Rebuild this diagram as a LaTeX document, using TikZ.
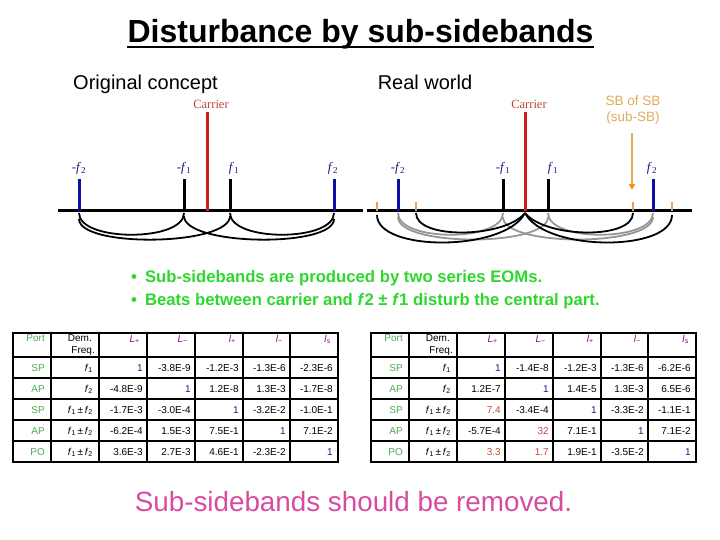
\documentclass[tikz,border=0pt]{standalone}
\usepackage{fontspec}
\setmainfont{Liberation Sans}
\newfontfamily\timesfont{Liberation Serif}
\usetikzlibrary{arrows.meta}

\definecolor{spikered}{RGB}{205,30,30}
\definecolor{spikeblue}{RGB}{15,15,165}
\definecolor{tickorange}{RGB}{228,160,90}
\definecolor{sbtan}{RGB}{225,170,90}
\definecolor{arrowhead}{RGB}{240,150,30}
\definecolor{arcgray}{RGB}{150,150,150}
\definecolor{labnavy}{RGB}{25,25,120}
\definecolor{carrierred}{RGB}{185,70,50}
\definecolor{bulletgreen}{RGB}{45,215,45}
\definecolor{removepink}{RGB}{215,75,160}
\definecolor{portgreen}{RGB}{80,170,80}
\definecolor{headpurple}{RGB}{128,20,128}
\definecolor{onenavy}{RGB}{30,30,130}
\definecolor{valred}{RGB}{190,75,55}

\newcommand\flab[2]{#1\textit{f}\textsubscript{#2}}
\newcommand\one{\textcolor{onenavy}{1}}
\newcommand\hot[1]{\textcolor{valred}{#1}}
\newcommand\fpm{\textit{f}\textsubscript{1}\,±\,\textit{f}\textsubscript{2}}
\newcommand\hsym[2]{\textit{#1}\textsubscript{#2}}

\begin{document}
\begin{tikzpicture}[x=1pt,y=-1pt,
  axis/.style={line width=3pt},
  spike/.style={line width=3pt},
  subtick/.style={line width=2.5pt,tickorange},
  arcline/.style={line width=1.8pt},
  flabel/.style={font=\timesfont\fontsize{13}{13}\selectfont,text=labnavy,anchor=base,inner sep=0},
  carlabel/.style={font=\timesfont\fontsize{12.5}{13}\selectfont,text=carrierred,anchor=base,inner sep=0},
  grid/.style={line width=1.8pt},
  cell/.style={font=\fontsize{10}{11}\selectfont,anchor=base east,inner sep=0}]

\useasboundingbox (0,0) rectangle (720,540);

% title and headings
\node[font=\bfseries\fontsize{32}{36}\selectfont,anchor=base,inner sep=0] (title) at (360.5,43) {Disturbance by sub-sidebands};
\draw[line width=2.2pt] ([yshift=-4pt]title.base west) -- ([yshift=-4pt]title.base east);
\node[font=\fontsize{20}{24}\selectfont,anchor=base,inner sep=0] (orig) at (145.5,90) {Original concept};
\node[font=\fontsize{20}{24}\selectfont,anchor=base,inner sep=0] (real) at (425,90) {Real world};

% original concept
\draw[axis] (58,211) -- (363,211);
\draw[spike,spikeblue] (79,211) -- (79,179);
\draw[spike] (184,211) -- (184,179);
\draw[spike,spikered] (207,211) -- (207,112);
\draw[spike] (230,211) -- (230,179);
\draw[spike,spikeblue] (334,211) -- (334,179);
\node[carlabel] (carl) at (211,108.5) {Carrier};
\node[flabel] (lm2) at (79,172) {\flab{-}{2}};
\node[flabel] (lm1) at (184,172) {\flab{-}{1}};
\node[flabel] (lp1) at (234,172) {\flab{}{1}};
\node[flabel] (lp2) at (333,172) {\flab{}{2}};
\draw[arcline] (79,213) .. controls (79,242) and (184,242) .. (184,213);
\draw[arcline] (230,213) .. controls (230,242) and (334,242) .. (334,213);
\draw[arcline] (79,219) .. controls (79,248) and (230,246) .. (230,216);
\draw[arcline] (184,216) .. controls (184,246) and (334,248) .. (334,219);

% real world
\draw[axis] (367,211) -- (692,211);
\draw[subtick] (377,211) -- (377,202);
\draw[subtick] (416,211) -- (416,202);
\draw[subtick] (633,211) -- (633,202);
\draw[subtick] (672,211) -- (672,202);
\draw[spike,spikeblue] (398,211) -- (398,179);
\draw[spike] (503,211) -- (503,179);
\draw[spike,spikered] (525,211) -- (525,112);
\draw[spike] (548,211) -- (548,179);
\draw[spike,spikeblue] (653,211) -- (653,179);
\node[carlabel] (carr) at (529,108.5) {Carrier};
\node[flabel] (rm2) at (398,172) {\flab{-}{2}};
\node[flabel] (rm1) at (503,172) {\flab{-}{1}};
\node[flabel] (rp1) at (553,172) {\flab{}{1}};
\node[flabel] (rp2) at (652,172) {\flab{}{2}};
\draw[arcline,arcgray] (398,213) .. controls (398,242) and (503,242) .. (503,213);
\draw[arcline,arcgray] (548,213) .. controls (548,242) and (653,242) .. (653,213);
\draw[arcline,arcgray] (398,217) .. controls (398,247) and (548,247) .. (548,217);
\draw[arcline,arcgray] (503,217) .. controls (503,247) and (653,247) .. (653,217);
\draw[arcline] (416,213) .. controls (416,240) and (505,238) .. (525,213);
\draw[arcline] (377,215) .. controls (377,252) and (505,252) .. (525,213);
\draw[arcline] (525,213) .. controls (545,238) and (633,240) .. (633,213);
\draw[arcline] (525,213) .. controls (545,252) and (672,252) .. (672,215);
\node[font=\fontsize{13.5}{16}\selectfont,text=sbtan,anchor=base,inner sep=0] (sb) at (633,106) {SB of SB};
\node[font=\fontsize{13.5}{16}\selectfont,text=sbtan,anchor=base,inner sep=0] (subsb) at (633,122) {(sub-SB)};
\coordinate (sbtip) at (632,190);
\draw[line width=1.6pt,sbtan,-{Triangle[length=6pt,width=6pt,color=arrowhead]}] ([xshift=-1pt,yshift=-8pt]subsb.south) -- (sbtip);

% bullets
\node[font=\bfseries\fontsize{16.7}{19}\selectfont,text=bulletgreen,anchor=base west,inner sep=0] (bul1) at (131,282) {•\hspace{8pt}Sub-sidebands are produced by two series EOMs.};
\node[font=\bfseries\fontsize{16.7}{19}\selectfont,text=bulletgreen,anchor=base west,inner sep=0] (bul2) at (131,305) {•\hspace{8pt}Beats between carrier and \textit{f}2 ± \textit{f}1 disturb the central part.};

% tables
\foreach \ox/\tb in {0/lt,358/rt}{
  \begin{scope}[xshift=\ox]
  \draw[grid] (13,333) rectangle (338,462);
  \foreach \x in {51,99,147,195,243,290} \draw[grid] (\x,333) -- (\x,462);
  \foreach \y in {357,378,399,420,441} \draw[grid] (13,\y) -- (338,\y);
  \node[cell,text=portgreen] (\tb-port) at (45,341) {Port};
  \node[cell] (\tb-dem) at (92,341) {Dem.};
  \node[cell] (\tb-freq) at (95,353) {Freq.};
  \foreach \s/\cx [count=\k] in {{\hsym{L}{+}}/140,{\hsym{L}{−}}/188,{\hsym{l}{+}}/236,{\hsym{l}{−}}/283,{\hsym{l}{s}}/331}
    \node[cell,text=headpurple] (\tb-h\k) at (\cx,342) {\s};
  \end{scope}
}
\foreach \yb/\po/\dm/\va/\vb/\vc/\vd/\ve [count=\r] in {
  371/SP/{\flab{}{1}}/\one/-3.8E-9/-1.2E-3/-1.3E-6/-2.3E-6,
  392/AP/{\flab{}{2}}/-4.8E-9/\one/1.2E-8/1.3E-3/-1.7E-8,
  413/SP/\fpm/-1.7E-3/-3.0E-4/\one/-3.2E-2/-1.0E-1,
  434/AP/\fpm/-6.2E-4/1.5E-3/7.5E-1/\one/7.1E-2,
  455/PO/\fpm/3.6E-3/2.7E-3/4.6E-1/-2.3E-2/\one}{
  \node[cell,text=portgreen] (lt-\r-p) at (45,\yb) {\po};
  \node[cell] (lt-\r-f) at (93,\yb) {\dm};
  \node[cell] (lt-\r-a) at (143,\yb) {\va};
  \node[cell] (lt-\r-b) at (191,\yb) {\vb};
  \node[cell] (lt-\r-c) at (239,\yb) {\vc};
  \node[cell] (lt-\r-d) at (286,\yb) {\vd};
  \node[cell] (lt-\r-e) at (333,\yb) {\ve};
}
\foreach \yb/\po/\dm/\va/\vb/\vc/\vd/\ve [count=\r] in {
  371/SP/{\flab{}{1}}/\one/-1.4E-8/-1.2E-3/-1.3E-6/-6.2E-6,
  392/AP/{\flab{}{2}}/1.2E-7/\one/1.4E-5/1.3E-3/6.5E-6,
  413/SP/\fpm/{\hot{7.4}}/-3.4E-4/\one/-3.3E-2/-1.1E-1,
  434/AP/\fpm/-5.7E-4/{\hot{32}}/7.1E-1/\one/7.1E-2,
  455/PO/\fpm/{\hot{3.3}}/{\hot{1.7}}/1.9E-1/-3.5E-2/\one}{
  \node[cell,text=portgreen] (rt-\r-p) at (403,\yb) {\po};
  \node[cell] (rt-\r-f) at (451,\yb) {\dm};
  \node[cell] (rt-\r-a) at (501,\yb) {\va};
  \node[cell] (rt-\r-b) at (549,\yb) {\vb};
  \node[cell] (rt-\r-c) at (597,\yb) {\vc};
  \node[cell] (rt-\r-d) at (644,\yb) {\vd};
  \node[cell] (rt-\r-e) at (691,\yb) {\ve};
}

\node[font=\fontsize{27.8}{31}\selectfont,text=removepink,anchor=base,inner sep=0] (remove) at (353.5,511) {Sub-sidebands should be removed.};
\end{tikzpicture}
\end{document}
